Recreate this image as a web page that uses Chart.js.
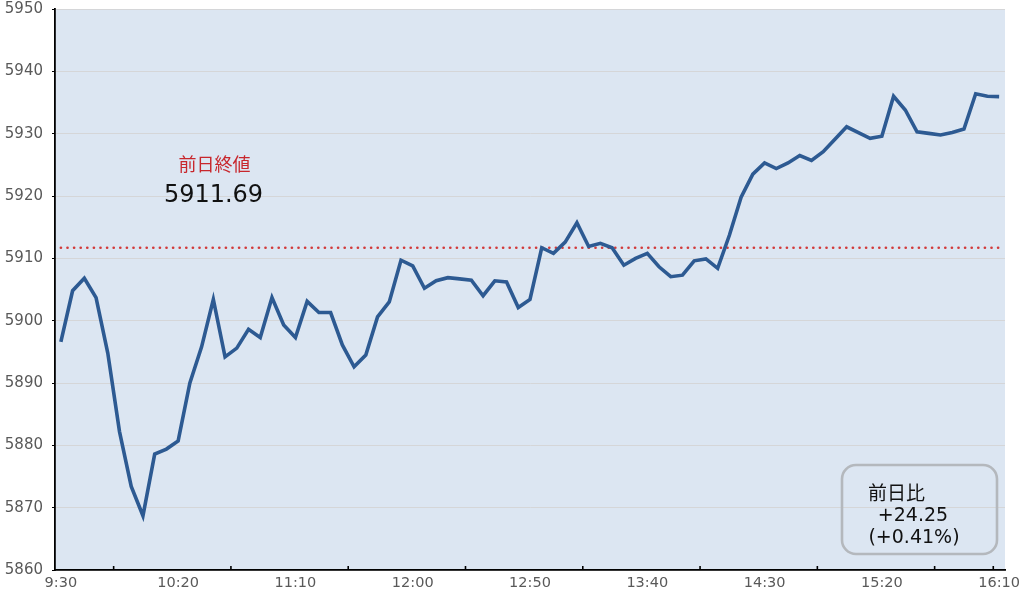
<!DOCTYPE html>
<html><head><meta charset="utf-8">
<script src="https://cdn.jsdelivr.net/npm/chart.js@4.4.1/dist/chart.umd.min.js"></script>
<style>html,body{margin:0;padding:0;background:#fff;}canvas{display:block;}</style>
</head><body>
<canvas id="c" width="1030" height="595"></canvas>
<script>
// ---- data ----
const categories = [
  "9:30","9:35","9:40","9:45","9:50","9:55",
  "10:00","10:05","10:10","10:15","10:20","10:25","10:30","10:35","10:40","10:45","10:50","10:55",
  "11:00","11:05","11:10","11:15","11:20","11:25","11:30","11:35","11:40","11:45","11:50","11:55",
  "12:00","12:05","12:10","12:15","12:20","12:25","12:30","12:35","12:40","12:45","12:50","12:55",
  "13:00","13:05","13:10","13:15","13:20","13:25","13:30","13:35","13:40","13:45","13:50","13:55",
  "14:00","14:05","14:10","14:15","14:20","14:25","14:30","14:35","14:40","14:45","14:50","14:55",
  "15:00","15:05","15:10","15:15","15:20","15:25","15:30","15:35","15:40","15:45","15:50","15:55",
  "16:00","16:05","16:10"
];
const prices = [
  5896.6, 5904.8, 5906.8, 5903.7, 5894.8, 5882.2, 5873.4, 5868.7, 5878.6, 5879.4,
  5880.7, 5890.0, 5895.8, 5903.4, 5894.2, 5895.6, 5898.6, 5897.3, 5903.7, 5899.3,
  5897.3, 5903.1, 5901.3, 5901.3, 5896.1, 5892.6, 5894.5, 5900.6, 5903.0, 5909.7,
  5908.8, 5905.2, 5906.4, 5906.9, 5906.7, 5906.5, 5904.0, 5906.4, 5906.2, 5902.1,
  5903.4, 5911.7, 5910.8, 5912.6, 5915.7, 5911.9, 5912.4, 5911.7, 5908.9, 5910.0,
  5910.8, 5908.65, 5907.05, 5907.3, 5909.6, 5909.9, 5908.4, 5913.7, 5919.8, 5923.5,
  5925.3, 5924.4, 5925.3, 5926.5, 5925.7, 5927.1, 5929.1, 5931.1, 5930.15, 5929.25,
  5929.6, 5936.0, 5933.8, 5930.3, 5930.05, 5929.8, 5930.2, 5930.75, 5936.4, 5936.0,
  5935.94
];
const prevClose = 5911.69;
const prevCloseTitle = "前日終値";
const prevCloseText = "5911.69";
const changeLines = ["前日比", "+24.25", "(+0.41%)"];
const yMin = 5860, yMax = 5950, yStep = 10;
const labelEvery = 10;
const tickMarkPositions = [4.5, 14.5, 24.5, 34.5, 44.5, 54.5, 64.5, 74.5, 79.5];

const FONT = '"DejaVu Sans", "Noto Sans CJK JP", sans-serif';
const CJK = '"Noto Sans CJK JP", "DejaVu Sans", sans-serif';

const decor = {
  id: 'decor',
  beforeDraw(chart) {
    const {ctx, chartArea: a} = chart;
    ctx.save();
    ctx.fillStyle = '#dce6f2';
    ctx.fillRect(a.left, a.top, a.right - a.left, a.bottom - a.top);
    ctx.restore();
  },
  beforeDatasetsDraw(chart) {
    const {ctx, scales: {x, y}} = chart;
    const py = y.getPixelForValue(prevClose);
    ctx.save();
    ctx.strokeStyle = '#d23a3a';
    ctx.lineWidth = 2.6;
    ctx.lineCap = 'round';
    ctx.setLineDash([0.1, 6.5]);
    ctx.beginPath();
    ctx.moveTo(x.getPixelForValue(0), py);
    ctx.lineTo(x.getPixelForValue(categories.length - 1), py);
    ctx.stroke();
    ctx.restore();
  },
  afterDraw(chart) {
    const {ctx, chartArea: a, scales: {x, y}} = chart;
    ctx.save();
    // inward tick marks on x axis
    ctx.strokeStyle = '#000';
    ctx.lineWidth = 1.6;
    tickMarkPositions.forEach(p => {
      const px = x.getPixelForValue(p);
      ctx.beginPath();
      ctx.moveTo(px, a.bottom);
      ctx.lineTo(px, a.bottom - 4);
      ctx.stroke();
    });
    // previous close label
    const lx = x.getPixelForValue(13.1);
    ctx.textAlign = 'center';
    ctx.textBaseline = 'middle';
    ctx.fillStyle = '#c8262c';
    ctx.font = '18px ' + CJK;
    ctx.fillText(prevCloseTitle, lx, y.getPixelForValue(5925.1));
    ctx.fillStyle = '#111';
    ctx.font = '24px ' + FONT;
    ctx.fillText(prevCloseText, lx - 1, y.getPixelForValue(5920.1));
    // change box
    const bx = a.right - 163, by = a.bottom - 105, bw = 155, bh = 89, r = 14;
    ctx.strokeStyle = '#b4b8bd';
    ctx.lineWidth = 2.6;
    ctx.beginPath();
    ctx.roundRect(bx, by, bw, bh, r);
    ctx.stroke();
    ctx.fillStyle = '#111';
    ctx.font = '19px ' + CJK;
    ctx.textAlign = 'left';
    ctx.fillText(changeLines[0], bx + 26, by + 28);
    ctx.textAlign = 'center';
    ctx.font = '19px ' + FONT;
    ctx.fillText(changeLines[1], bx + 71, by + 51);
    ctx.fillText(changeLines[2], bx + 72, by + 73);
    ctx.restore();
  }
};

new Chart(document.getElementById('c'), {
  type: 'line',
  data: {
    labels: categories,
    datasets: [{
      data: prices,
      borderColor: '#2d5a92',
      borderWidth: 3.6,
      pointRadius: 0,
      tension: 0,
      fill: false
    }]
  },
  options: {
    responsive: false,
    animation: false,
    devicePixelRatio: 1,
    layout: {padding: {top: 9, right: 25, left: 0, bottom: 0}},
    plugins: {legend: {display: false}, tooltip: {enabled: false}},
    scales: {
      x: {
        type: 'category',
        offset: true,
        afterFit(s) { s.height = 25; },
        grid: {display: true, color: 'transparent', drawTicks: false, drawOnChartArea: false},
        border: {display: true, color: '#000', width: 1.8},
        ticks: {
          autoSkip: false, maxRotation: 0, padding: 5,
          color: '#595959', font: {family: FONT, size: 14.5},
          callback(v, i) { return i % labelEvery === 0 ? categories[i] : null; }
        }
      },
      y: {
        min: yMin, max: yMax,
        afterFit(s) { s.width = 55; s.paddingTop = 0; s.paddingBottom = 0; },
        grid: {color: '#d5d6d8', lineWidth: 1, drawTicks: true, tickLength: 3, tickColor: '#000'},
        border: {display: true, color: '#000', width: 1.8},
        ticks: {stepSize: yStep, padding: 9, color: '#595959', font: {family: FONT, size: 15},
          callback(v) { return String(v); }}
      }
    }
  },
  plugins: [decor]
});
</script>
</body></html>
